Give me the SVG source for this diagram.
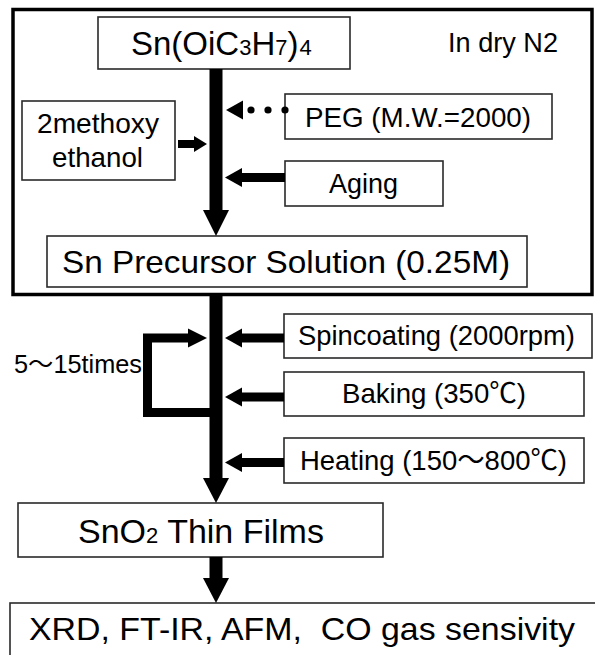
<svg xmlns="http://www.w3.org/2000/svg" width="595" height="655" viewBox="0 0 595 655">
<style>
.box{fill:none;stroke:#2a2a2a;stroke-width:1.6}
.outer{fill:none;stroke:#000;stroke-width:3.5}
text{font-family:"Liberation Sans",Arial,"Noto Sans CJK JP",sans-serif;fill:#000}
.t{font-size:28px}
.fill{fill:#000}
</style>
<rect width="595" height="655" fill="#fff"/>
<g id="dry-n2-region">
<rect class="outer" x="13" y="9.5" width="579" height="285"/>
<text class="t" x="448" y="52" font-size="27" textLength="110" lengthAdjust="spacingAndGlyphs">In dry N2</text>
</g>
<g id="node-sn-alkoxide">
<rect class="box" x="98" y="17" width="252" height="52"/>
<text x="131" y="55" font-size="33">Sn(OiC<tspan font-size="22">3</tspan>H<tspan font-size="22">7</tspan>)<tspan font-size="22" dx="1">4</tspan></text>
</g>
<g id="node-methoxyethanol">
<rect class="box" x="22" y="101" width="153" height="79"/>
<text class="t" x="37" y="133" textLength="122" lengthAdjust="spacingAndGlyphs">2methoxy</text>
<text class="t" x="52" y="167" textLength="91" lengthAdjust="spacingAndGlyphs">ethanol</text>
</g>
<g id="node-peg">
<rect class="box" x="285" y="94" width="267" height="45"/>
<text class="t" x="305" y="127" textLength="226" lengthAdjust="spacingAndGlyphs">PEG (M.W.=2000)</text>
</g>
<g id="node-aging">
<rect class="box" x="285" y="161" width="158" height="45"/>
<text class="t" x="329" y="193" textLength="69" lengthAdjust="spacingAndGlyphs">Aging</text>
</g>
<g id="node-precursor">
<rect class="box" x="47" y="236" width="480" height="51"/>
<text x="62" y="273" font-size="32" textLength="448" lengthAdjust="spacingAndGlyphs">Sn Precursor Solution (0.25M)</text>
</g>
<g id="node-spincoating">
<rect class="box" x="284" y="314" width="308" height="44"/>
<text class="t" x="298" y="345" textLength="277" lengthAdjust="spacingAndGlyphs">Spincoating (2000rpm)</text>
</g>
<g id="node-baking">
<rect class="box" x="284" y="372" width="300" height="44"/>
<text class="t" x="342" y="403" textLength="184" lengthAdjust="spacingAndGlyphs">Baking (350℃)</text>
</g>
<g id="node-heating">
<rect class="box" x="284" y="438" width="300" height="45"/>
<text class="t" x="300" y="470" textLength="267" lengthAdjust="spacingAndGlyphs">Heating (150～800℃)</text>
</g>
<g id="node-repeat-label">
<text x="14" y="373" font-size="25" textLength="128" lengthAdjust="spacingAndGlyphs">5～15times</text>
</g>
<g id="node-sno2">
<rect class="box" x="18" y="503" width="365" height="54"/>
<text x="78" y="543" font-size="34">SnO<tspan font-size="22">2</tspan> Thin Films</text>
</g>
<g id="node-analysis">
<rect class="box" x="10" y="603" width="592" height="60"/>
<text x="29" y="640" font-size="32" textLength="546" lengthAdjust="spacingAndGlyphs">XRD, FT-IR, AFM,&#160; CO gas sensivity</text>
</g>
<g id="connectors">
<rect class="fill" x="209.5" y="69" width="13" height="143"/>
<polygon class="fill" points="203,210 229,210 216,236"/>
<rect class="fill" x="209.5" y="294" width="13" height="186"/>
<polygon class="fill" points="203,478 229,478 216,503"/>
<rect class="fill" x="209.5" y="557" width="13" height="23"/>
<polygon class="fill" points="203,578 229,578 216,603"/>
<rect class="fill" x="178" y="140" width="17" height="8"/>
<polygon class="fill" points="194,136 194,152 207,144"/>
<polygon class="fill" points="243,100.5 243,119.5 226,110"/>
<circle class="fill" cx="251" cy="110" r="3.6"/>
<circle class="fill" cx="268" cy="110" r="3.6"/>
<circle class="fill" cx="285" cy="110" r="3.6"/>
<rect class="fill" x="241" y="173" width="44" height="9"/>
<polygon class="fill" points="242,168 242,187 225,177.5"/>
<rect class="fill" x="241" y="333.5" width="43" height="9"/>
<polygon class="fill" points="242,328.5 242,347.5 225,338"/>
<rect class="fill" x="241" y="392.5" width="43" height="9"/>
<polygon class="fill" points="242,387.5 242,406.5 225,397"/>
<rect class="fill" x="241" y="458" width="43" height="9"/>
<polygon class="fill" points="242,453 242,472 225,462.5"/>
<path d="M190 338 H147.5 V412.5 H210" fill="none" stroke="#000" stroke-width="9"/>
<polygon class="fill" points="188,328.5 188,347.5 207,338"/>
</g>
</svg>
